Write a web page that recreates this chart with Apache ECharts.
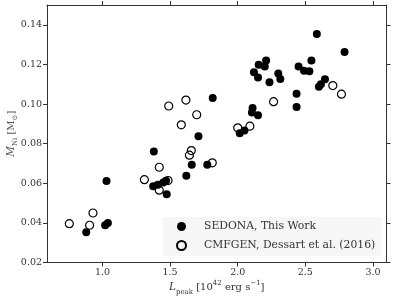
<!DOCTYPE html>
<html><head><meta charset="utf-8">
<script src="https://cdn.jsdelivr.net/npm/echarts@6/dist/echarts.min.js"></script>
<style>html,body{margin:0;padding:0;background:#fff}#c{width:399px;height:299px}</style>
</head><body><div id="c"></div>
<script>
// SEDONA, This Work (filled)
const sedonaL = [0.88, 1.02, 1.04, 1.03, 1.375, 1.38, 1.41, 1.45, 1.47, 1.475, 1.62, 1.66, 1.71, 1.775, 1.815,
  2.015, 2.05, 2.11, 2.105, 2.15, 2.12, 2.15, 2.155, 2.2, 2.21, 2.235, 2.30, 2.315, 2.435, 2.435,
  2.45, 2.49, 2.53, 2.545, 2.585, 2.60, 2.615, 2.645, 2.79];
const sedonaM = [0.0353, 0.0388, 0.0400, 0.0612, 0.0585, 0.0760, 0.0593, 0.0604, 0.0613, 0.0545, 0.0638, 0.0693, 0.0838, 0.0693, 0.1030,
  0.0853, 0.0867, 0.0980, 0.0957, 0.0944, 0.1160, 0.1134, 0.1198, 0.1190, 0.1220, 0.1110, 0.1154, 0.1126, 0.1052, 0.0985,
  0.1190, 0.1168, 0.1166, 0.1220, 0.1353, 0.1087, 0.1100, 0.1125, 0.1263];
// CMFGEN, Dessart et al. (2016) (open)
const cmfgenL = [0.755, 0.905, 0.93, 1.31, 1.42, 1.42, 1.485, 1.49, 1.583, 1.617, 1.643, 1.657, 1.697, 1.812, 2.0, 2.09, 2.265, 2.703, 2.767];
const cmfgenM = [0.0396, 0.0388, 0.0450, 0.0618, 0.0565, 0.0681, 0.0614, 0.0990, 0.0895, 0.1020, 0.0742, 0.0765, 0.0946, 0.0703, 0.0880, 0.0888, 0.1012, 0.1093, 0.1050];

const xTicks = [1.0, 1.5, 2.0, 2.5, 3.0];
const yTicks = [0.02, 0.04, 0.06, 0.08, 0.10, 0.12, 0.14];
const seriesNames = ['SEDONA, This Work', 'CMFGEN, Dessart et al. (2016)'];

const FONT = 'DejaVu Serif';
const AX = '#333';
const pairs = (xs, ys) => xs.map((x, i) => [x, ys[i]]);

function xAxisDef(pos, showLabel) {
  return {
    type: 'value', min: 0.59, max: 3.1, position: pos,
    axisLine: { show: true, onZero: false, lineStyle: { color: AX, width: 1 } },
    axisTick: { show: true, inside: false, length: 4, customValues: xTicks, lineStyle: { color: AX, width: 1 } },
    axisLabel: { show: showLabel, customValues: xTicks, formatter: v => Number(v).toFixed(1),
      fontFamily: FONT, fontSize: 9.5, color: AX, margin: 5 },
    splitLine: { show: false }
  };
}
function yAxisDef(pos, showLabel) {
  return {
    type: 'value', min: 0.02, max: 0.15, position: pos,
    axisLine: { show: true, onZero: false, lineStyle: { color: AX, width: 1 } },
    axisTick: { show: true, inside: false, length: 4, customValues: yTicks, lineStyle: { color: AX, width: 1 } },
    axisLabel: { show: showLabel, customValues: yTicks, formatter: v => Number(v).toFixed(2),
      fontFamily: FONT, fontSize: 9.5, color: AX, margin: 5 },
    splitLine: { show: false }
  };
}

const xa = xAxisDef('bottom', true);
xa.name = '{i|L}{sub|peak} [10{sup|42} erg s{sup|−1}]';
xa.nameLocation = 'middle';
xa.nameGap = 17;
xa.nameMoveOverlap = false;
xa.nameTextStyle = {
  fontFamily: FONT, fontSize: 10, color: AX, lineHeight: 16,
  rich: {
    i: { fontFamily: FONT, fontSize: 10.5, fontStyle: 'italic', color: AX, lineHeight: 16 },
    sub: { fontFamily: FONT, fontSize: 7, color: AX, verticalAlign: 'bottom', lineHeight: 9 },
    sup: { fontFamily: FONT, fontSize: 7, color: AX, verticalAlign: 'top', lineHeight: 9 }
  }
};
const ya = yAxisDef('left', true);
ya.name = '{i|M}{sub|Ni} [M{sub|⊙}]';
ya.nameLocation = 'middle';
ya.nameRotate = 90;
ya.nameGap = 28;
ya.nameMoveOverlap = false;
ya.nameTextStyle = {
  fontFamily: FONT, fontSize: 10, color: '#555', lineHeight: 16,
  rich: {
    i: { fontFamily: FONT, fontSize: 10.5, fontStyle: 'italic', color: '#555', lineHeight: 16 },
    sub: { fontFamily: FONT, fontSize: 7, color: '#555', verticalAlign: 'bottom', lineHeight: 9 }
  }
};

const chart = echarts.init(document.getElementById('c'), null, { renderer: 'canvas' });
chart.setOption({
  animation: false,
  backgroundColor: '#fff',
  grid: { left: 47, right: 12.5, top: 5, bottom: 36.5, containLabel: false, outerBoundsMode: 'none' },
  xAxis: [xa, xAxisDef('top', false)],
  yAxis: [ya, yAxisDef('right', false)],
  legend: {
    data: seriesNames, orient: 'vertical', left: 163, top: 217,
    backgroundColor: 'rgba(238,238,238,0.55)', borderWidth: 0, borderRadius: 0,
    padding: [4, 6, 5, 13], itemWidth: 9, itemHeight: 9, itemGap: 8,
    textStyle: { fontFamily: FONT, fontSize: 10.8, color: AX, padding: [0, 0, 0, 13] }
  },
  series: [
    {
      name: seriesNames[1], type: 'scatter', xAxisIndex: 0, yAxisIndex: 0, z: 2,
      symbol: 'circle', symbolSize: 8,
      itemStyle: { color: 'rgba(255,255,255,0)', borderColor: '#000', borderWidth: 1.2, opacity: 1 },
      data: pairs(cmfgenL, cmfgenM)
    },
    {
      name: seriesNames[0], type: 'scatter', xAxisIndex: 0, yAxisIndex: 0, z: 3,
      symbol: 'circle', symbolSize: 8,
      itemStyle: { color: '#000', opacity: 1 },
      data: pairs(sedonaL, sedonaM)
    }
  ]
});
</script>
</body></html>
